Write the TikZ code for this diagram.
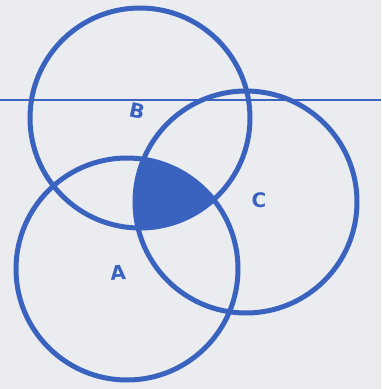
\documentclass[tikz,border=0pt]{standalone}
\usepackage{fontspec}
\setsansfont{DejaVu Sans}
\usepackage{tikz}
\definecolor{ink}{HTML}{3A63C0}
\definecolor{paper}{HTML}{EAECEF}

\begin{document}
\begin{tikzpicture}[x=1pt, y=-1pt,
    ring/.style={draw=ink, line width=5pt},
    setlabel/.style={text=ink, font=\sffamily\bfseries\fontsize{20}{20}\selectfont, inner sep=0pt}
]
\fill[paper] (0,0) rectangle (381,389);
\useasboundingbox (0,0) rectangle (381,389);

\coordinate (cB) at (140,118);
\coordinate (cA) at (127,269);
\coordinate (cC) at (246,202);

% horizontal line
\coordinate (lineL) at (0,100);
\coordinate (lineR) at (381,100);
\draw[ink, line width=1.6pt] (lineL) -- (lineR);

% common part of the three sets
\begin{scope}
  \clip (cB) circle (110);
  \clip (cC) circle (111);
  \fill[ink] (cA) circle (111);
\end{scope}

\draw[ring] (cB) circle (110);
\draw[ring] (cA) circle (111);
\draw[ring] (cC) circle (111);

\node[setlabel, rotate=-12] (labB) at (137,111) {B};
\node[setlabel, rotate=4] (labA) at (118,273) {A};
\node[setlabel] (labC) at (259,200) {C};
\end{tikzpicture}
\end{document}
